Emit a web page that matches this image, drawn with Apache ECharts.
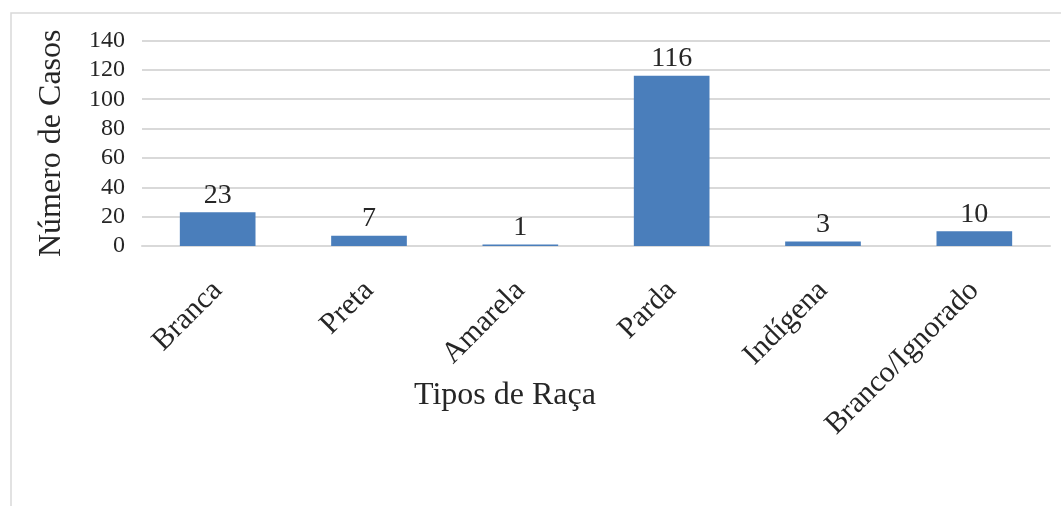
<!DOCTYPE html>
<html>
<head>
<meta charset="utf-8">
<script src="https://cdn.jsdelivr.net/npm/echarts@6/dist/echarts.min.js"></script>
<style>
html,body{margin:0;padding:0;background:#fff;}
#chart{width:1061px;height:506px;}
</style>
</head>
<body>
<div id="chart"></div>
<script>
const categories = ['Branca', 'Preta', 'Amarela', 'Parda', 'Indígena', 'Branco/Ignorado'];
const casos = [23, 7, 1, 116, 3, 10];
const yTicks = [0, 20, 40, 60, 80, 100, 120, 140];

const FONT = "'Liberation Serif', 'Times New Roman', serif";
const TXT = '#262626';

const chart = echarts.init(document.getElementById('chart'));
chart.setOption({
  backgroundColor: '#ffffff',
  animation: false,
  graphic: [{
    type: 'rect',
    shape: { x: 11, y: 13, width: 1100, height: 600 },
    style: { fill: 'none', stroke: '#d9d9d9', lineWidth: 1.5 },
    silent: true
  }],
  grid: { left: 142, right: 11, top: 40.5, bottom: 260 },
  xAxis: {
    type: 'category',
    data: categories,
    name: 'Tipos de Raça',
    nameLocation: 'middle',
    nameGap: 134,
    nameMoveOverlap: false,
    nameTextStyle: { fontFamily: FONT, fontSize: 32, color: TXT, padding: [0, 182, 0, 0] },
    axisLine: { show: true, lineStyle: { color: '#d9d9d9', width: 2 } },
    axisTick: { show: false },
    axisLabel: { rotate: 45, margin: 40, fontFamily: FONT, fontSize: 30, color: TXT, interval: 0 }
  },
  yAxis: {
    type: 'value',
    min: yTicks[0],
    max: yTicks[yTicks.length - 1],
    interval: yTicks[1] - yTicks[0],
    name: 'Número de Casos',
    nameLocation: 'middle',
    nameGap: 74,
    nameMoveOverlap: false,
    nameTextStyle: { fontFamily: FONT, fontSize: 32, color: TXT },
    axisLine: { show: false },
    axisTick: { show: false },
    axisLabel: { margin: 17, fontFamily: FONT, fontSize: 24, color: TXT },
    splitLine: { lineStyle: { color: '#d9d9d9', width: 2 } }
  },
  series: [{
    type: 'bar',
    data: casos,
    barWidth: '50%',
    itemStyle: { color: '#4a7ebb' },
    label: { show: true, position: 'top', distance: 3, fontFamily: FONT, fontSize: 28, color: TXT }
  }]
});
</script>
</body>
</html>
